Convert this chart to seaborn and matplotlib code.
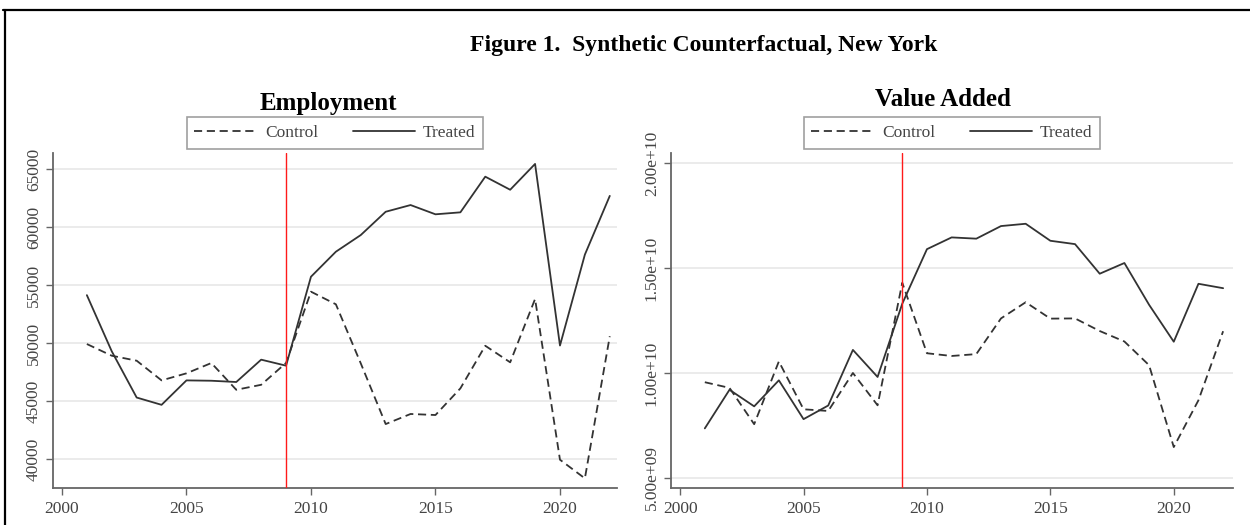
import matplotlib
matplotlib.use("Agg")
import matplotlib.pyplot as plt
from matplotlib.lines import Line2D
import seaborn as sns
import pandas as pd

# Annual series, 2001-2022
years = list(range(2001, 2023))

emp_treated = [54150, 49300, 45310, 44680, 46790, 46760, 46650, 48580, 48060,
               55740, 57900, 59340, 61350, 61930, 61130, 61300, 64380, 63250,
               65480, 49800, 57650, 62720]
emp_control = [49930, 48920, 48490, 46790, 47400, 48290, 45980, 46410, 48300,
               54450, 53360, 48260, 43020, 43890, 43800, 46100, 49780, 48350,
               53820, 39940, 38330, 50600]

va_treated = [7.36e9, 9.20e9, 8.41e9, 9.65e9, 7.80e9, 8.45e9, 1.110e10, 9.81e9,
              1.330e10, 1.590e10, 1.646e10, 1.640e10, 1.700e10, 1.711e10,
              1.630e10, 1.614e10, 1.473e10, 1.524e10, 1.325e10, 1.149e10,
              1.425e10, 1.404e10]
va_control = [9.56e9, 9.29e9, 7.56e9, 1.055e10, 8.27e9, 8.19e9, 1.000e10, 8.46e9,
              1.430e10, 1.094e10, 1.081e10, 1.090e10, 1.260e10, 1.337e10,
              1.259e10, 1.260e10, 1.200e10, 1.150e10, 1.037e10, 6.47e9,
              8.70e9, 1.199e10]

treatment_year = 2009

x_ticks = [2000, 2005, 2010, 2015, 2020]
emp_ticks = [40000, 45000, 50000, 55000, 60000, 65000]
emp_tick_labels = ["40000", "45000", "50000", "55000", "60000", "65000"]
va_ticks = [5e9, 1e10, 1.5e10, 2e10]
va_tick_labels = ["5.00e+09", "1.00e+10", "1.50e+10", "2.00e+10"]

fig_title = "Figure 1.  Synthetic Counterfactual, New York"
panel_titles = ["Employment", "Value Added"]
groups = ["Control", "Treated"]

sns.set_theme(style="white")
plt.rcParams["font.family"] = ["Liberation Serif", "DejaVu Serif"]

line_color = "#333333"
axis_color = "#666666"
tick_text = "#444444"
dash_pattern = (4.5, 2.6)

fig = plt.figure(figsize=(12.5, 5.25), dpi=100)
ax_emp = fig.add_axes([0.0424, 0.0705, 0.4512, 0.638])
ax_va = fig.add_axes([0.5368, 0.0705, 0.4496, 0.638])


def long_frame(control, treated):
    return pd.DataFrame({
        "year": years * 2,
        "value": list(control) + list(treated),
        "group": [groups[0]] * len(years) + [groups[1]] * len(years),
    })


def draw_panel(ax, control, treated, yticks, ylabels, ylim, xlim,
               title, title_x, title_y):
    df = long_frame(control, treated)
    sns.lineplot(data=df, x="year", y="value", style="group",
                 style_order=groups,
                 dashes={groups[0]: dash_pattern, groups[1]: ""},
                 color=line_color, linewidth=1.3, ax=ax, legend=False)
    ax.axvline(treatment_year, color="#ff1a1a", linewidth=1.0, zorder=3)

    ax.set_xlim(*xlim)
    ax.set_ylim(*ylim)
    ax.set_xticks(x_ticks)
    ax.set_xticklabels([str(t) for t in x_ticks])
    ax.set_yticks(yticks)
    ax.set_yticklabels(ylabels, rotation=90, va="center")
    ax.set_xlabel("")
    ax.set_ylabel("")

    ax.grid(axis="y", color="#ebebeb", linewidth=1.4)
    ax.grid(axis="x", visible=False)
    ax.set_axisbelow(True)

    for side in ("top", "right"):
        ax.spines[side].set_visible(False)
    for side in ("left", "bottom"):
        ax.spines[side].set_color(axis_color)
        ax.spines[side].set_linewidth(1.3)

    ax.tick_params(axis="both", which="major", direction="out", length=5,
                   width=1.0, color=axis_color, labelcolor=tick_text,
                   labelsize=12.5, bottom=True, left=True, pad=3)
    ax.tick_params(axis="x", pad=4.5)

    handles = [Line2D([], [], color=line_color, linewidth=1.3, dashes=dash_pattern),
               Line2D([], [], color=line_color, linewidth=1.3)]
    leg = ax.legend(handles, groups, loc="lower center",
                    bbox_to_anchor=(0.5, 1.0), ncol=2, frameon=True,
                    fancybox=False, edgecolor="#888888", fontsize=12.5,
                    handlelength=3.6, columnspacing=2.0, handletextpad=0.45,
                    borderpad=0.45, borderaxespad=0.25)
    leg.get_frame().set_linewidth(1.2)
    for t in leg.get_texts():
        t.set_color("#444444")

    fig.text(title_x, title_y, title, ha="center", va="center",
             fontsize=18, fontweight="bold", color="black")


draw_panel(ax_emp, emp_control, emp_treated, emp_ticks, emp_tick_labels,
           (37500, 66420), (1999.64, 2022.29), panel_titles[0],
           328 / 1250, 1 - 103 / 525)
draw_panel(ax_va, va_control, va_treated, va_ticks, va_tick_labels,
           (4.52e9, 2.048e10), (1999.63, 2022.4), panel_titles[1],
           943 / 1250, 1 - 100 / 525)

fig.text(704 / 1250, 1 - 45 / 525, fig_title, ha="center", va="center",
         fontsize=17, fontweight="bold", color="black")

# Outer frame: top rule and left rule
fig.add_artist(Line2D([3 / 1250, 1.0], [1 - 10 / 525, 1 - 10 / 525],
                      color="black", linewidth=1.6, transform=fig.transFigure))
fig.add_artist(Line2D([5 / 1250, 5 / 1250], [0.0, 1 - 10 / 525],
                      color="black", linewidth=1.6, transform=fig.transFigure))

fig.savefig("out.png", dpi=100, facecolor="white")
